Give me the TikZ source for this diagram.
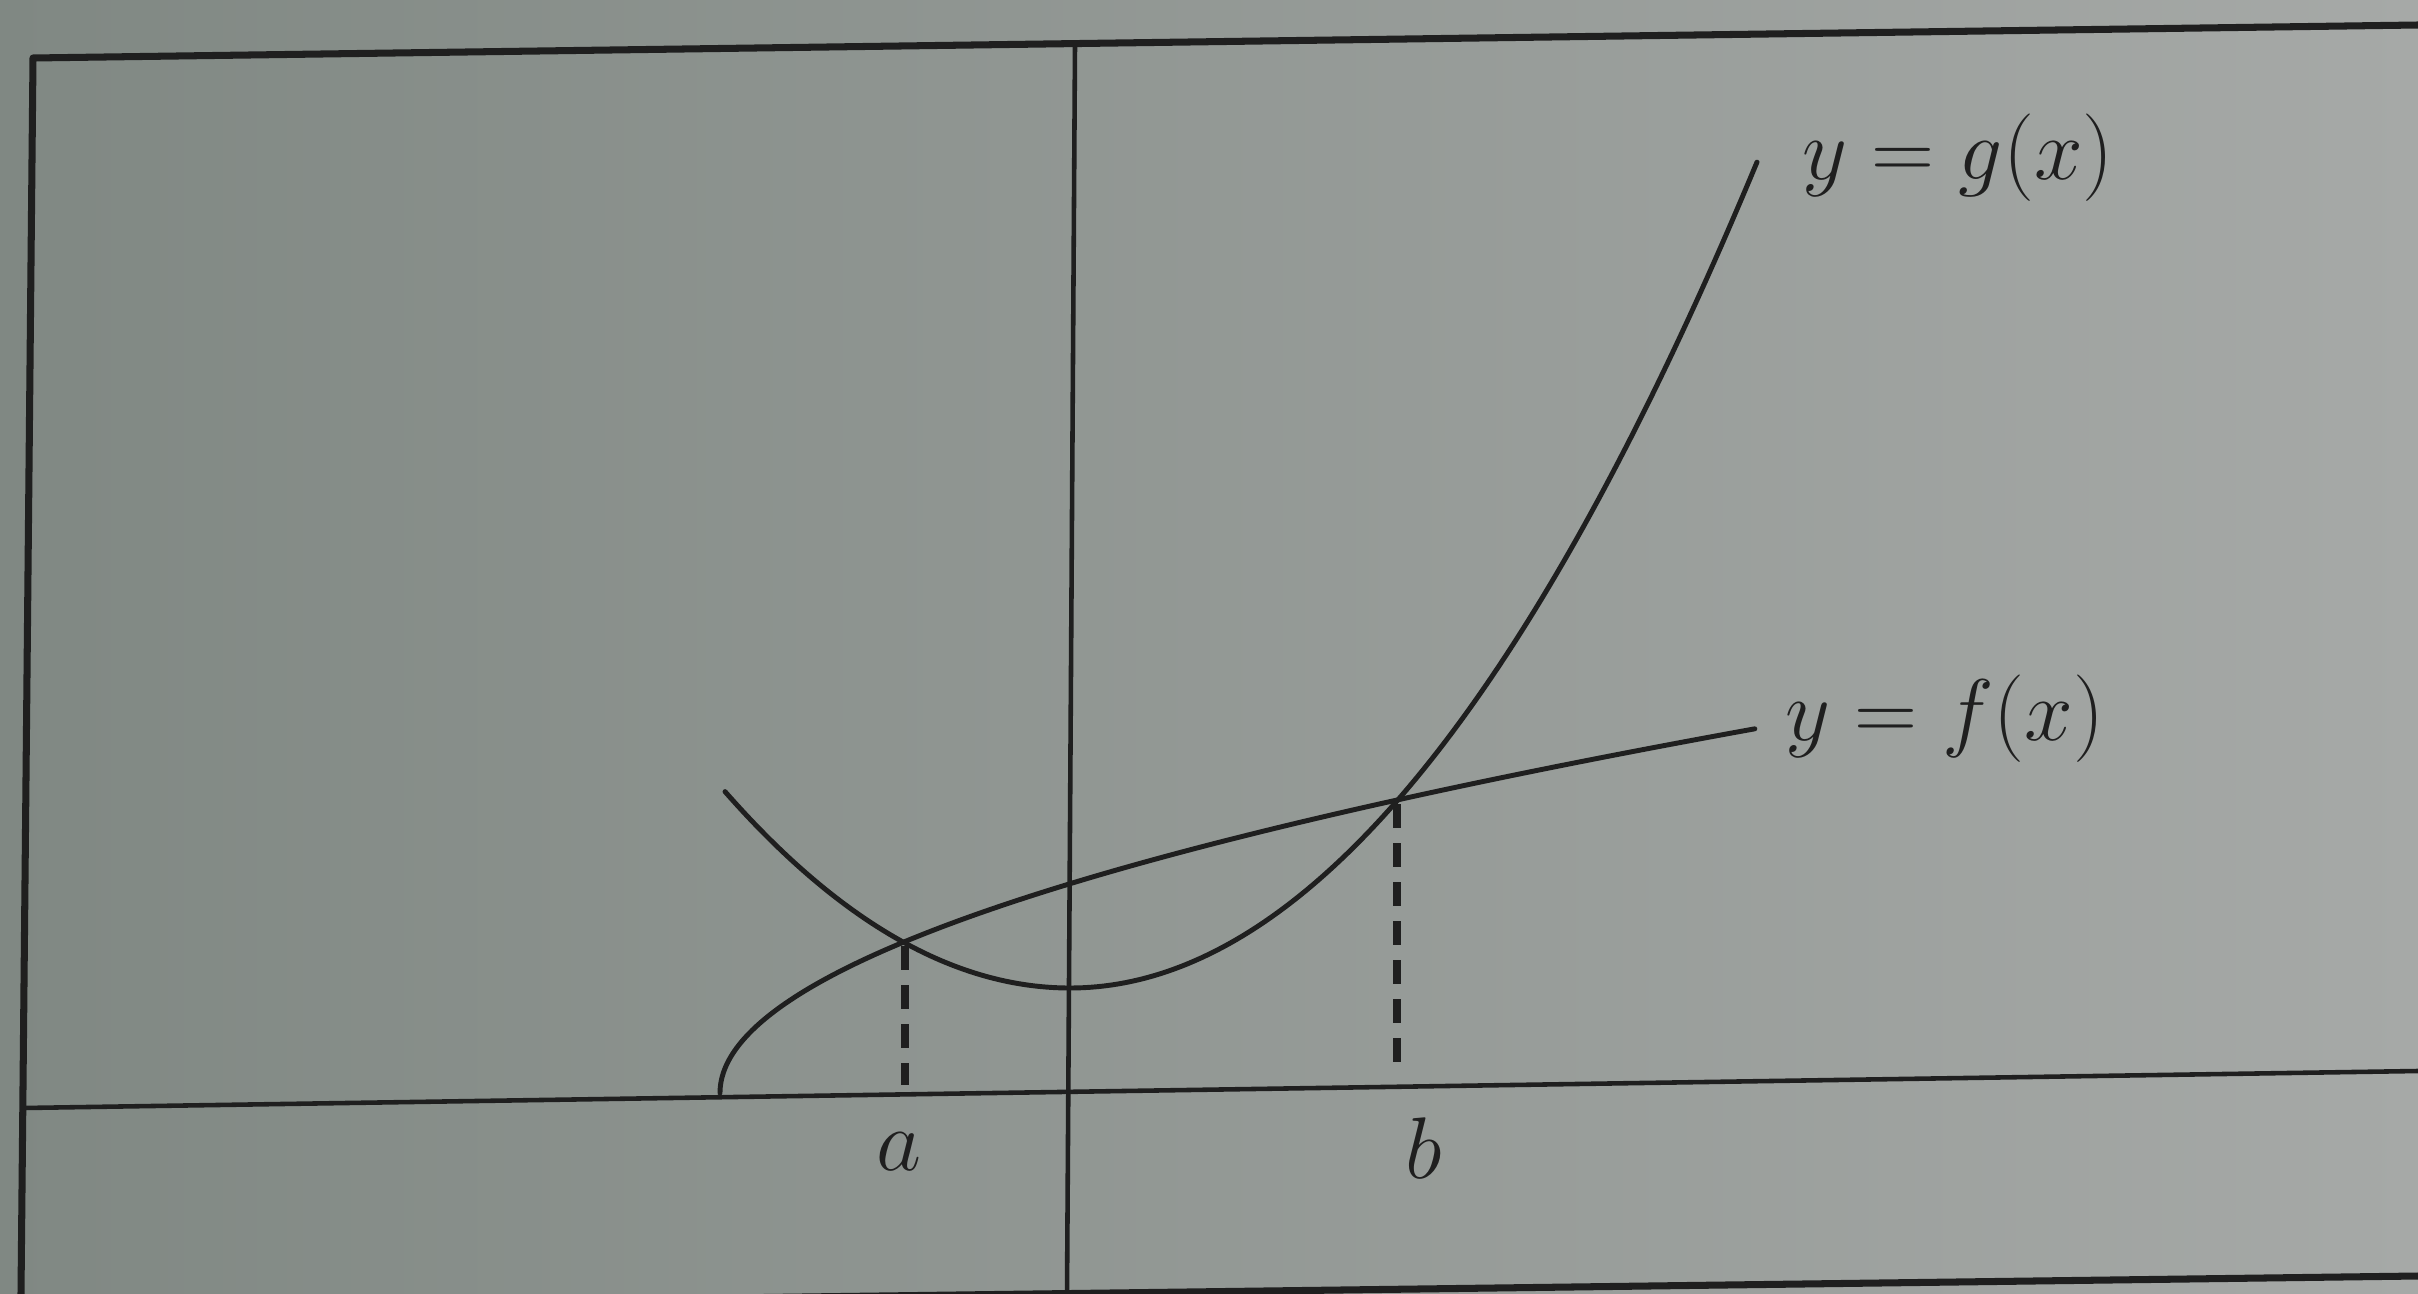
\documentclass[tikz,border=0pt]{standalone}
\begin{document}
\begin{tikzpicture}[x=0.01cm,y=-0.01cm,
  ink/.style={draw=black!88, line cap=round, line join=round},
  frameline/.style={ink, line width=2pt},
  axisline/.style={ink, line width=1.3pt},
  curve/.style={ink, line width=1.4pt},
  dropline/.style={draw=black!88, line width=2.4pt, dash pattern=on 0.24cm off 0.15cm},
  lbl/.style={font=\fontsize{24}{28}\selectfont, text=black!88, inner sep=0pt}]
\useasboundingbox (0,0) rectangle (2418,1294);
\shade[left color={rgb,255:red,128;green,136;blue,131}, right color={rgb,255:red,166;green,169;blue,167}] (0,0) rectangle (2418,1294);
\begin{scope}
\clip (0,0) rectangle (2418,1294);
% frame of the page
\coordinate (tl) at (33,58);
\coordinate (tr) at (2418,25);
\coordinate (bl) at (21,1294);
\coordinate (fbl) at (33,1307);
\coordinate (fbr) at (2418,1276);
\draw[frameline] (tr) -- (tl) -- (bl);
\draw[frameline] (fbl) -- (fbr);
% axes
\coordinate (xl) at (23,1108);
\coordinate (xr) at (2418,1071);
\coordinate (yt) at (1075,44);
\coordinate (yb) at (1067,1294);
\draw[axisline] (xl) -- (xr);
\draw[axisline] (yt) -- (yb);
% curves
\draw[curve] plot[domain=725:1070, samples=60] (\x, {988-16.5*((\x-1070)/100)^2})
  -- plot[domain=1070:1757, samples=100] (\x, {988-17.5*((\x-1070)/100)^2});
\draw[curve] plot[domain=0:32.17, samples=120] ({720+\x*\x}, {1093-11*\x-0.01*\x*\x});
% intersections and drop lines
\coordinate (A) at (905,946);
\coordinate (B) at (1397,804);
\coordinate (Af) at (905,1085);
\coordinate (Bf) at (1397,1072);
\draw[dropline] (A) -- (Af);
\draw[dropline] (B) -- (Bf);
% labels
\node[lbl, anchor=base] (la) at (899,1170) {$a$};
\node[lbl, anchor=base] (lb) at (1424,1178) {$b$};
\node[lbl, anchor=base] (lg) at (1958,180) {$y=g(x)$};
\node[lbl, anchor=base] (lf) at (1945,740) {$y=f(x)$};
\end{scope}
\end{tikzpicture}
\end{document}
